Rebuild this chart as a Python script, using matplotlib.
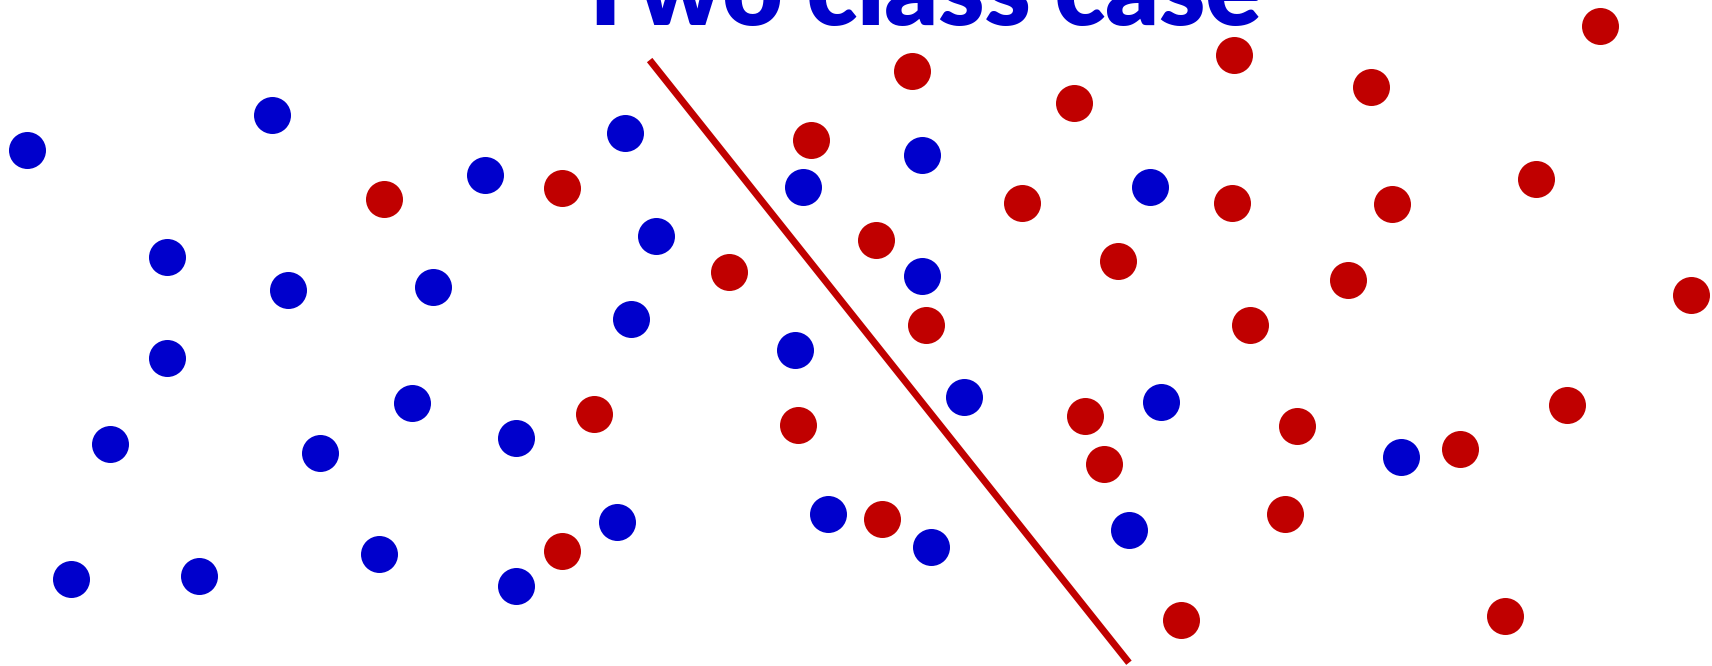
import matplotlib
matplotlib.use('Agg')
import matplotlib.pyplot as plt
import numpy as np

# positions (in the 1568x610 view)
blue_x = [25, 249, 153, 264, 153, 101, 293, 377, 397, 444, 572, 601, 578, 473, 65,
          182, 347, 473, 565, 735, 844, 844, 728, 883, 758, 853, 1053, 1063, 1034, 1283]
blue_y = [137, 105, 235, 266, 328, 407, 415, 369, 263, 160, 122, 216, 292, 401, 530,
          528, 507, 537, 478, 171, 142, 253, 321, 364, 471, 501, 171, 368, 485, 419]

red_x = [352, 515, 668, 544, 515, 835, 743, 802, 848, 731, 808, 984, 936, 1024, 1130, 1128,
         1145, 994, 1011, 1188, 1177, 1082, 1256, 1275, 1235, 1407, 1465, 1549, 1435, 1337, 1378]
red_y = [182, 172, 249, 379, 505, 65, 128, 220, 298, 389, 475, 94, 186, 239, 50, 186,
         298, 381, 425, 390, 471, 568, 80, 187, 256, 164, 24, 270, 371, 411, 564]

line_x = [595, 1034]
line_y = [55, 607]

title = 'Two class case'

BLUE = '#0000CC'
RED = '#C00000'

fig = plt.figure(figsize=(17.12, 6.66), dpi=100)
ax = fig.add_axes([0, 0, 1, 1])
ax.set_xlim(0, 1568)
ax.set_ylim(610, 0)
ax.axis('off')

ax.plot(line_x, line_y, color=RED, linewidth=5, solid_capstyle='butt', zorder=1)
ax.scatter(blue_x, blue_y, s=710, color=BLUE, linewidths=0, zorder=2)
ax.scatter(red_x, red_y, s=710, color=RED, linewidths=0, zorder=2)

# title, cut off at the top like the original
t = ax.text(841, 23, title, ha='center', va='baseline', color=BLUE,
            fontsize=80, fontweight='heavy', family=['Lato', 'DejaVu Sans'])
fig.canvas.draw()
w = t.get_window_extent().width
t.set_fontsize(80 * (630 * 1712 / 1568) / w)

fig.savefig('out.png', dpi=100)
